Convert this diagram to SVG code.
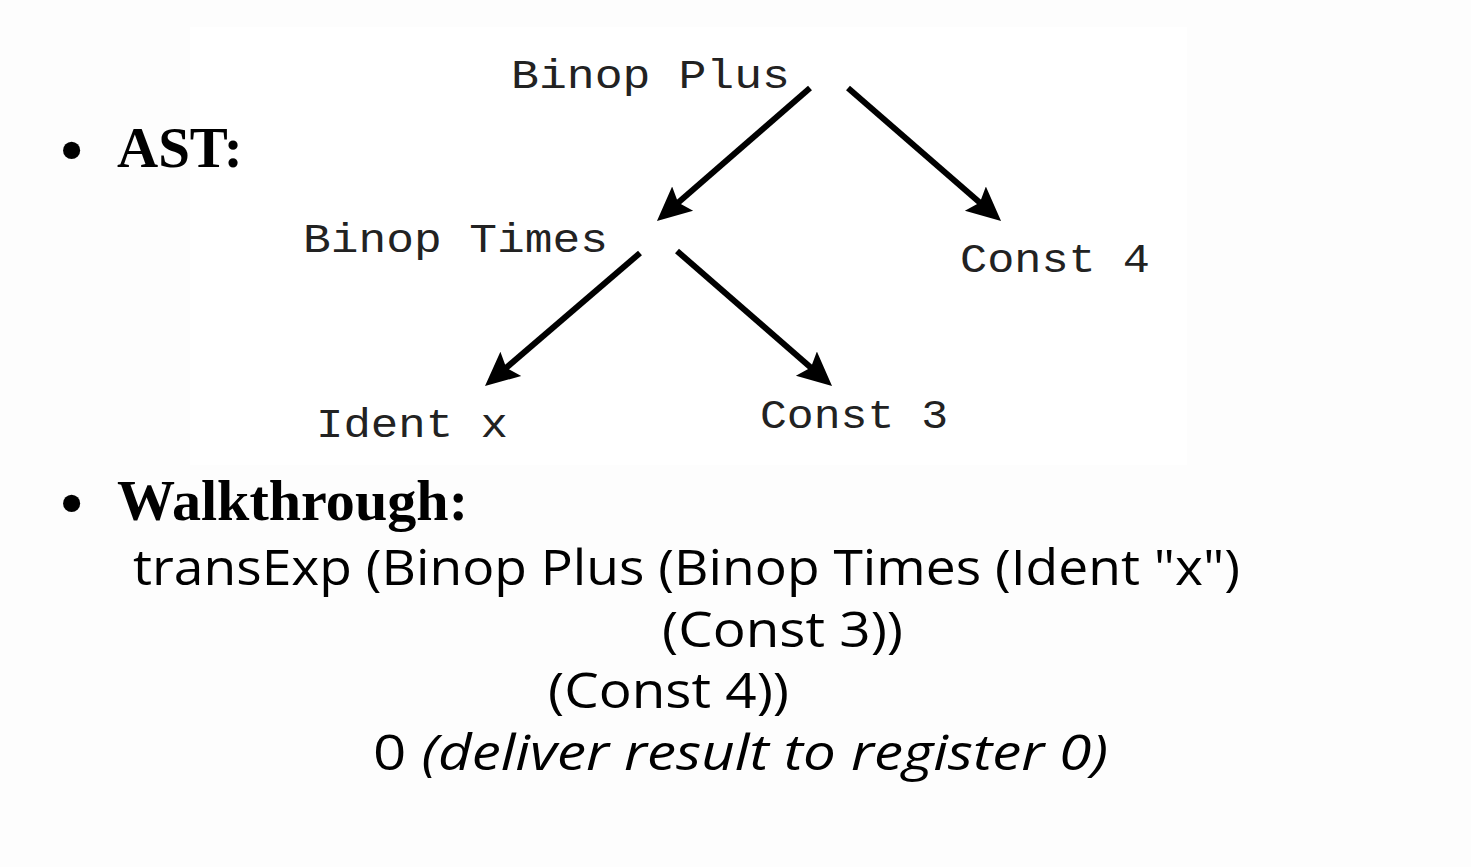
<svg xmlns="http://www.w3.org/2000/svg" width="1471" height="867" viewBox="0 0 1471 867">
<style>
.node{font-family:"Courier New","Liberation Mono",monospace;font-size:40px;fill:#222}
.head{font-family:"Liberation Serif","Times New Roman",serif;font-size:57px;font-weight:bold;fill:#000}
.bul{font-family:"Liberation Serif","Times New Roman",serif;font-size:72px;fill:#000}
.code{font-family:"Open Sans","DejaVu Sans",sans-serif;font-size:50px;fill:#000}
.edge{stroke:#000;stroke-width:6;fill:none;marker-end:url(#ah)}
</style>
<defs>
<marker id="ah" markerUnits="userSpaceOnUse" markerWidth="36" markerHeight="34" refX="24" refY="16" orient="auto" viewBox="0 0 36 32">
<path d="M0,0 L34,16 L0,32 L6,16 z" fill="#000"/>
</marker>
</defs>
<rect width="1471" height="867" fill="#fdfdfd"/>
<rect x="190" y="27" width="997" height="438" fill="#ffffff"/>
<g id="bullets">
<text class="bul" x="59" y="174">•</text>
<text class="head" x="117" y="167">AST:</text>
<text class="bul" x="59" y="527">•</text>
<text class="head" x="117" y="520" textLength="351" lengthAdjust="spacingAndGlyphs">Walkthrough:</text>
</g>
<g id="connectors">
<line class="edge" x1="810" y1="88" x2="664.5" y2="214.4"/>
<line class="edge" x1="848" y1="88" x2="993.5" y2="214.4"/>
<line class="edge" x1="640" y1="253" x2="492.6" y2="379.5"/>
<line class="edge" x1="677" y1="251" x2="824.5" y2="379.4"/>
</g>
<g id="node-binop-plus"><text class="node" x="511" y="88" textLength="279" lengthAdjust="spacingAndGlyphs">Binop Plus</text></g>
<g id="node-binop-times"><text class="node" x="303" y="252" textLength="305" lengthAdjust="spacingAndGlyphs">Binop Times</text></g>
<g id="node-const4"><text class="node" x="960" y="272" textLength="190" lengthAdjust="spacingAndGlyphs">Const 4</text></g>
<g id="node-ident-x"><text class="node" x="316" y="437" textLength="192" lengthAdjust="spacingAndGlyphs">Ident x</text></g>
<g id="node-const3"><text class="node" x="760" y="428" textLength="188" lengthAdjust="spacingAndGlyphs">Const 3</text></g>
<g id="walkthrough">
<text class="code" x="133" y="585" textLength="1107" lengthAdjust="spacingAndGlyphs">transExp (Binop Plus (Binop Times (Ident "x")</text>
<text class="code" x="662" y="647" textLength="241" lengthAdjust="spacingAndGlyphs">(Const 3))</text>
<text class="code" x="548" y="708" textLength="241" lengthAdjust="spacingAndGlyphs">(Const 4))</text>
<text class="code" x="373" y="770" textLength="735" lengthAdjust="spacingAndGlyphs">0 <tspan font-style="italic">(deliver result to register 0)</tspan></text>
</g>
</svg>
